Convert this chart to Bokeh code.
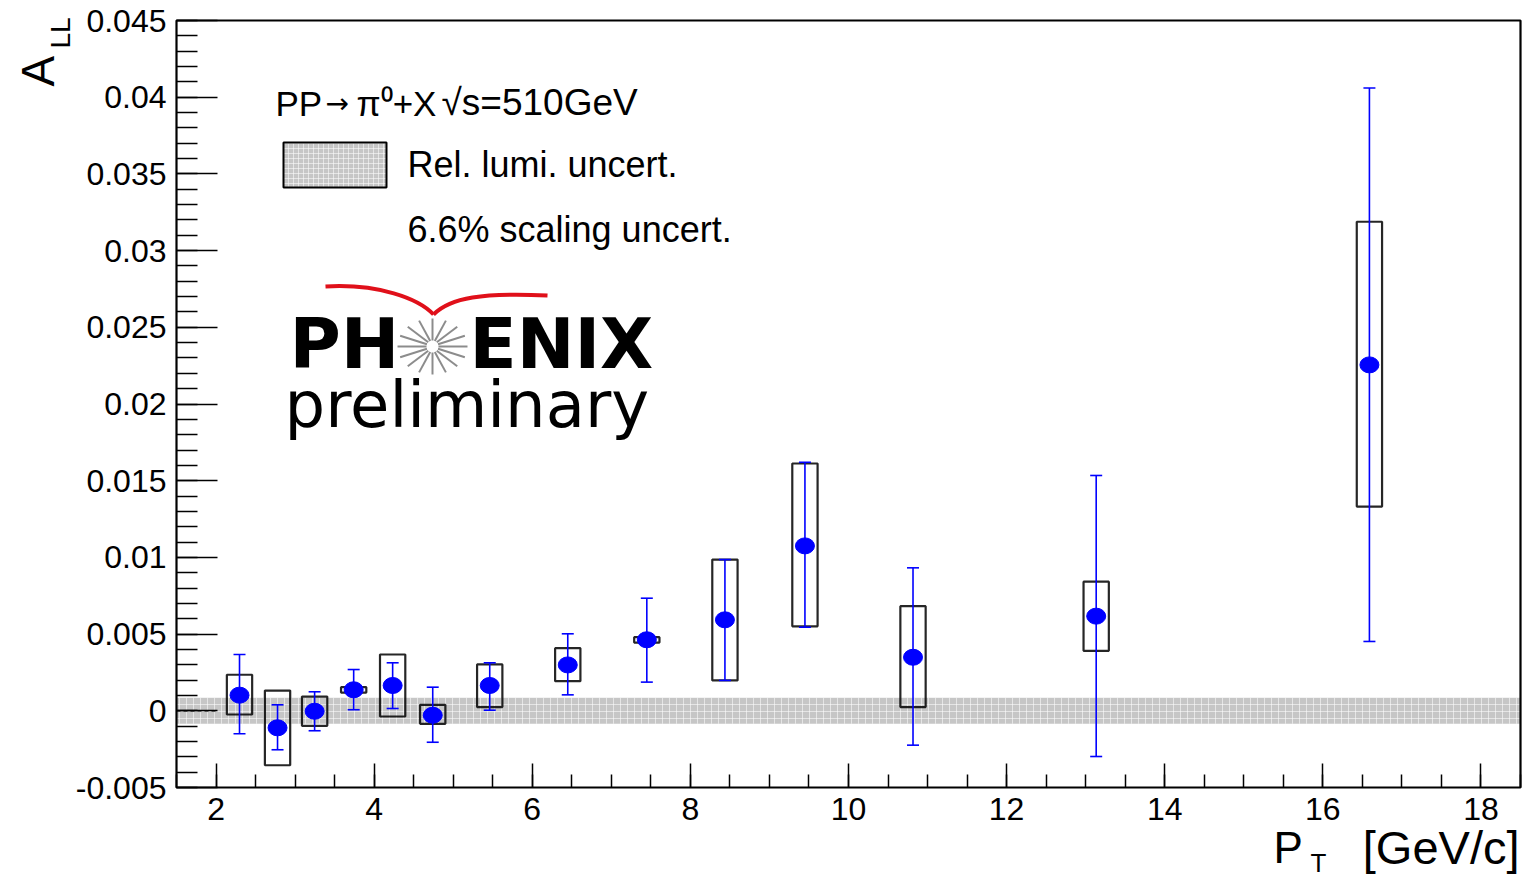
import math
from bokeh.plotting import figure
from bokeh.models import Label, FixedTicker, CustomJSTickFormatter, LinearAxis
from bokeh.embed import file_html
from bokeh.resources import INLINE

# ---------------- data ----------------
pt = [2.297, 2.778, 3.247, 3.741, 4.234, 4.741, 5.462, 6.449, 7.449, 8.437, 9.449, 10.816, 13.133, 16.589]
a_ll = [0.00102, -0.00111, -0.00003, 0.00137, 0.00165, -0.00029, 0.00165, 0.00299, 0.00463, 0.00593, 0.01075, 0.00349, 0.00617, 0.02255]
stat_hi = [0.00367, 0.00039, 0.00124, 0.00269, 0.00313, 0.00154, 0.00313, 0.00502, 0.00734, 0.00986, 0.01620, 0.00932, 0.01534, 0.04060]
stat_lo = [-0.00150, -0.00254, -0.00130, 0.00007, 0.00015, -0.00205, 0.00004, 0.00104, 0.00187, 0.00198, 0.00545, -0.00224, -0.00298, 0.00452]
sys_hi = [0.00235, 0.00132, 0.00093, 0.00154, 0.00367, 0.00039, 0.00302, 0.00408, 0.00480, 0.00986, 0.01612, 0.00682, 0.00842, 0.03188]
sys_lo = [-0.00024, -0.00355, -0.00098, 0.00119, -0.00037, -0.00085, 0.00024, 0.00193, 0.00445, 0.00198, 0.00551, 0.00024, 0.00391, 0.01331]
lumi_unc = 0.00085

x_ticks = [2, 4, 6, 8, 10, 12, 14, 16, 18]
x_tick_labels = ["2", "4", "6", "8", "10", "12", "14", "16", "18"]
y_ticks = [-0.005, 0.0, 0.005, 0.01, 0.015, 0.02, 0.025, 0.03, 0.035, 0.04, 0.045]
y_tick_labels = ["-0.005", "0", "0.005", "0.01", "0.015", "0.02", "0.025", "0.03", "0.035", "0.04", "0.045"]

# ---------------- layout ----------------
X0, X1 = 1.5, 18.5          # axis range shown by the plot box
Y0, Y1 = -0.005, 0.045
W, H = 1525, 879
PL, PR, PT_, PB = 176, 1520, 20, 787   # plot box edges in canvas pixels
SX = (PR - PL) / (X1 - X0)
SY = (PB - PT_) / (Y1 - Y0)

def dx(px):
    return X0 + (px - PL) / SX

def dy(py):
    return Y1 - (py - PT_) / SY

p = figure(width=W, height=H,
           x_range=(dx(0), dx(W)), y_range=(dy(H), dy(0)),
           x_axis_location=None, y_axis_location=None,
           output_backend="svg", toolbar_location=None)
p.min_border = 0
p.background_fill_color = "white"
p.border_fill_color = "white"
p.outline_line_color = None
p.xgrid.visible = False
p.ygrid.visible = False

FONT = "Liberation Sans"

FMT_CODE = """
let k = -1;
for (let j = 0; j < vals.length; j++) { if (Math.abs(vals[j] - tick) < 1e-9) { k = j; break; } }
return k >= 0 ? labs[k] : '';
"""

xaxis = LinearAxis(fixed_location=Y0,
                   ticker=FixedTicker(ticks=x_ticks,
                                      minor_ticks=[X0 + 0.5 * i for i in range(int((X1 - X0) / 0.5) + 1)]),
                   formatter=CustomJSTickFormatter(args=dict(vals=x_ticks, labs=x_tick_labels), code=FMT_CODE))
yaxis = LinearAxis(fixed_location=X0,
                   ticker=FixedTicker(ticks=y_ticks,
                                      minor_ticks=[round(Y0 + 0.001 * i, 4) for i in range(51)]),
                   formatter=CustomJSTickFormatter(args=dict(vals=y_ticks, labs=y_tick_labels), code=FMT_CODE))
for ax in (xaxis, yaxis):
    ax.axis_line_color = None
    ax.major_tick_line_color = "black"
    ax.minor_tick_line_color = "black"
    ax.major_tick_line_width = 1.5
    ax.minor_tick_line_width = 1.5
    ax.major_tick_out = 0
    ax.minor_tick_out = 0
    ax.major_label_text_font = FONT
    ax.major_label_text_font_size = "32px"
    ax.major_label_text_color = "black"
    ax.major_label_standoff = 10
xaxis.major_tick_in = 24
xaxis.minor_tick_in = 13
yaxis.major_tick_in = 41
yaxis.minor_tick_in = 21
p.add_layout(xaxis, "below")
p.add_layout(yaxis, "left")

# relative luminosity band
p.quad(left=[X0], right=[X1], bottom=[-lumi_unc], top=[lumi_unc],
       fill_color="#c6c6c6", line_color=None,
       hatch_pattern="+", hatch_color="white", hatch_alpha=0.55, hatch_scale=7, hatch_weight=1)

# dashed zero-line stub
p.segment(x0=[X0], y0=[0], x1=[x_ticks[0]], y1=[0], line_color="black",
          line_width=1.5, line_dash="4 3")

# plot box
p.quad(left=[X0], right=[X1], bottom=[Y0], top=[Y1], fill_color=None,
       line_color="black", line_width=2.2)

# systematic boxes
HB = 0.16
p.quad(left=[x - HB for x in pt], right=[x + HB for x in pt], bottom=sys_lo, top=sys_hi,
       fill_color=None, line_color="black", line_width=2.2, line_alpha=0.85)

# statistical error bars
p.segment(x0=pt, y0=stat_lo, x1=pt, y1=stat_hi, line_color="blue", line_width=1.6)
p.scatter(x=pt, y=stat_hi, marker="dash", size=12, line_color="blue", line_width=1.6)
p.scatter(x=pt, y=stat_lo, marker="dash", size=12, line_color="blue", line_width=1.6)

# points
p.ellipse(x=pt, y=a_ll, width=19, height=16, width_units="screen", height_units="screen",
          fill_color="blue", line_color="blue")

# ---------------- legend / text ----------------
p.quad(left=[dx(283)], right=[dx(386)], bottom=[dy(187)], top=[dy(142)],
       fill_color="#c6c6c6", line_color="black", line_width=2,
       hatch_pattern="+", hatch_color="white", hatch_alpha=0.55, hatch_scale=5, hatch_weight=1)

BASE_SHIFT = 0.35   # measured offset of the rendered baseline, as a fraction of the font size

def add_label(px, py, text, size, font=FONT, style="normal", color="black", angle=0.0, align="left"):
    if angle == 0.0:
        py = py - BASE_SHIFT * size
    else:
        px = px - BASE_SHIFT * size
    p.add_layout(Label(x=dx(px), y=dy(py), text=text, text_font=font, text_font_size=f"{size}px",
                       text_font_style=style, text_color=color, angle=angle,
                       text_align=align, text_baseline="alphabetic"))

add_label(275, 115, "PP", 35)
add_label(325, 113, "\u2192", 28, font="DejaVu Sans")
add_label(356, 115, "\u03c0\u2070+X", 35)
add_label(441, 115, "\u221as=510GeV", 37)
add_label(407, 177, "Rel. lumi. uncert.", 36)
add_label(407, 242, "6.6% scaling uncert.", 36)

# PHENIX logo
add_label(289, 368, "PH", 70, font="DejaVu Sans", style="bold")
add_label(469, 368, "ENIX", 69, font="DejaVu Sans", style="bold")
add_label(284, 427, "preliminary", 64, font="DejaVu Sans")

cx, cy, rx, ry, rin = 432, 346, 35, 28, 6
rays = 16
rx0, ry0, rx1, ry1 = [], [], [], []
for k in range(rays):
    a = 2 * math.pi * k / rays
    rx0.append(dx(cx + rin * math.cos(a)))
    ry0.append(dy(cy - rin * math.sin(a)))
    rx1.append(dx(cx + rx * math.cos(a)))
    ry1.append(dy(cy - ry * math.sin(a)))
p.segment(x0=rx0, y0=ry0, x1=rx1, y1=ry1, line_color="#8c8c8c", line_width=2)

p.bezier(x0=[dx(325)], y0=[dy(286)], x1=[dx(433)], y1=[dy(314)],
         cx0=[dx(378)], cy0=[dy(283)], cx1=[dx(418)], cy1=[dy(298)],
         line_color="#e0101a", line_width=4)
p.bezier(x0=[dx(433)], y0=[dy(314)], x1=[dx(547)], y1=[dy(295)],
         cx0=[dx(450)], cy0=[dy(297)], cx1=[dx(482)], cy1=[dy(292)],
         line_color="#e0101a", line_width=4)

# axis titles
add_label(54, 86, "A", 46, angle=math.pi / 2)
add_label(70, 48, "LL", 28, angle=math.pi / 2)
add_label(1273, 862, "P", 44)
add_label(1310, 872, "T", 26)
add_label(1519, 863, "[GeV/c]", 47, align="right")

open("out.html", "w").write(file_html(p, INLINE))
